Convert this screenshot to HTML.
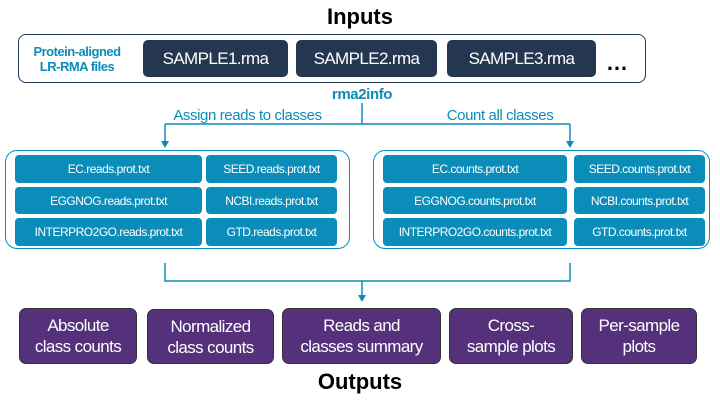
<!DOCTYPE html>
<html><head><style>
body{margin:0;width:720px;height:405px;background:#fff;font-family:"Liberation Sans",Arial,sans-serif;position:relative;overflow:hidden}
.a{position:absolute;box-sizing:border-box}
.t{display:flex;align-items:center;justify-content:center;text-align:center;white-space:nowrap}
.s{background:#253750;color:#fff;border-radius:5px;font-size:17px;letter-spacing:-0.6px}
.c{background:#0a8db9;color:#fff;border-radius:4px;font-size:12px;letter-spacing:-0.5px}
.o{background:#54317a;color:#fff;border-radius:7px;font-size:17px;line-height:21px;border:1px solid #333;letter-spacing:-0.6px}
.h{font-weight:bold;font-size:22px;color:#000}
.l{color:#0a8db9;font-size:15px;letter-spacing:-0.4px}
</style></head><body>
<div class="a t h" style="left:0;width:720px;top:4px;height:26px">Inputs</div>
<div class="a" style="left:18px;top:34px;width:628px;height:49px;border:1px solid #253750;border-radius:8px"></div>
<div class="a t" style="left:22px;top:38px;width:110px;height:42px;color:#0a8db9;font-weight:bold;font-size:13px;line-height:15px;letter-spacing:-0.5px">Protein-aligned<br>LR-RMA files</div>
<div class="a t s" style="left:143px;top:40px;width:145px;height:37px">SAMPLE1.rma</div>
<div class="a t s" style="left:296px;top:40px;width:141px;height:37px">SAMPLE2.rma</div>
<div class="a t s" style="left:447px;top:40px;width:149px;height:37px">SAMPLE3.rma</div>
<div class="a" style="left:606px;top:50px;font-size:22px;font-weight:bold">…</div>
<div class="a t" style="left:300px;top:85px;width:124px;height:18px;color:#0a8db9;font-weight:bold;font-size:15px;letter-spacing:-0.4px">rma2info</div>
<div class="a t l" style="left:160px;top:106px;width:175px;height:18px">Assign reads to classes</div>
<div class="a t l" style="left:430px;top:106px;width:140px;height:18px">Count all classes</div>
<svg class="a" style="left:0;top:0" width="720" height="405">
<g stroke="#0a8db9" stroke-width="1.5" fill="none">
<path d="M362 103V124M165 124H570M165 124V143M570 124V143"/>
<path d="M165 263V281H570V263M362 281V297"/>
</g>
<g fill="#0a8db9"><path d="M161 141L169 141L165 148Z"/><path d="M566 141L574 141L570 148Z"/><path d="M358 295L366 295L362 302Z"/></g>
</svg>
<div class="a" style="left:5px;top:150px;width:345px;height:99px;border:1px solid #0a8db9;border-radius:12px"></div>
<div class="a" style="left:373px;top:150px;width:337px;height:99px;border:1px solid #0a8db9;border-radius:12px"></div>
<div class="a t c" style="left:15px;top:155px;width:187px;height:28px">EC.reads.prot.txt</div>
<div class="a t c" style="left:206px;top:155px;width:131px;height:28px">SEED.reads.prot.txt</div>
<div class="a t c" style="left:15px;top:187px;width:187px;height:27px">EGGNOG.reads.prot.txt</div>
<div class="a t c" style="left:206px;top:187px;width:131px;height:27px">NCBI.reads.prot.txt</div>
<div class="a t c" style="left:15px;top:218px;width:187px;height:28px">INTERPRO2GO.reads.prot.txt</div>
<div class="a t c" style="left:206px;top:218px;width:131px;height:28px">GTD.reads.prot.txt</div>
<div class="a t c" style="left:383px;top:155px;width:184px;height:28px">EC.counts.prot.txt</div>
<div class="a t c" style="left:574px;top:155px;width:131px;height:28px">SEED.counts.prot.txt</div>
<div class="a t c" style="left:383px;top:187px;width:184px;height:27px">EGGNOG.counts.prot.txt</div>
<div class="a t c" style="left:574px;top:187px;width:131px;height:27px">NCBI.counts.prot.txt</div>
<div class="a t c" style="left:383px;top:218px;width:184px;height:28px">INTERPRO2GO.counts.prot.txt</div>
<div class="a t c" style="left:574px;top:218px;width:131px;height:28px">GTD.counts.prot.txt</div>
<div class="a t o" style="left:19px;top:308px;width:118px;height:56px">Absolute<br>class counts</div>
<div class="a t o" style="left:147px;top:309px;width:127px;height:55px">Normalized<br>class counts</div>
<div class="a t o" style="left:282px;top:308px;width:159px;height:56px">Reads and<br>classes summary</div>
<div class="a t o" style="left:449px;top:308px;width:124px;height:56px">Cross-<br>sample plots</div>
<div class="a t o" style="left:581px;top:308px;width:116px;height:56px">Per-sample<br>plots</div>
<div class="a t h" style="left:0;width:720px;top:369px;height:26px">Outputs</div>
</body></html>
